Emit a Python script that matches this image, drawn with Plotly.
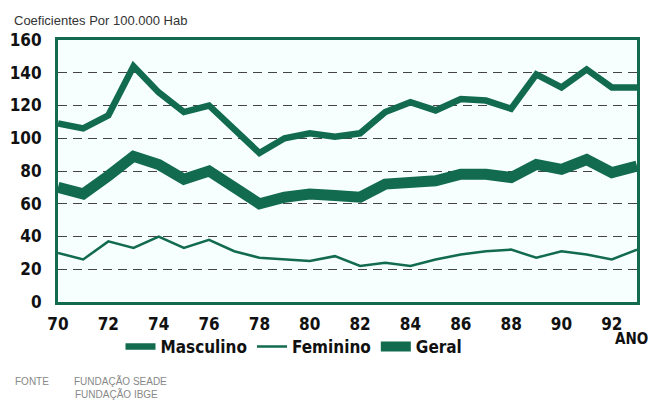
import plotly.graph_objects as go

years = list(range(70, 94))
masculino = [109, 106, 114, 144, 128, 116, 120, 105, 91, 100, 103, 101, 103, 116, 122, 117, 124, 123, 118, 139, 131, 142, 131, 131]
feminino = [30, 26, 37, 33, 40, 33, 38, 31, 27, 26, 25, 28, 22, 24, 22, 26, 29, 31, 32, 27, 31, 29, 26, 32]
geral = [70, 66, 77, 89, 84, 75, 80, 70, 60, 64, 66, 65, 64, 72, 73, 74, 78, 78, 76, 84, 81, 87, 79, 83]
xticks = list(range(70, 93, 2))
yticks = list(range(0, 161, 20))

GREEN = "#126b4f"
FONT = "DejaVu Sans Condensed, Arial Narrow, Arial, sans-serif"

W, H = 650, 402
L, R, T, B = 58, 13, 40, 100
PW, PH = W - L - R, H - T - B

def px(x):
    return (x - L) / PW

def py(y):
    return (H - B - y) / PH

fig = go.Figure()
fig.add_trace(go.Scatter(x=years, y=masculino, mode="lines", name="Masculino",
                         line=dict(color=GREEN, width=6.5)))
fig.add_trace(go.Scatter(x=years, y=feminino, mode="lines", name="Feminino",
                         line=dict(color=GREEN, width=2.5)))
fig.add_trace(go.Scatter(x=years, y=geral, mode="lines", name="Geral",
                         line=dict(color=GREEN, width=11)))

fig.update_xaxes(range=[70, 93], tickvals=xticks, ticktext=[str(v) for v in xticks],
                 showgrid=False, zeroline=False, showline=True, mirror=True, automargin=False,
                 linecolor=GREEN, linewidth=3, ticks="", ticklabelstandoff=5,
                 tickfont=dict(family=FONT, size=17, color="#111", weight="bold"))
fig.update_yaxes(range=[0, 160], tickvals=yticks, ticktext=[str(v) for v in yticks],
                 showgrid=True, gridcolor="#444444", gridwidth=1, griddash="9px,6px",
                 zeroline=False, showline=True, mirror=True, automargin=False,
                 linecolor=GREEN, linewidth=3, ticks="", ticklabelstandoff=10,
                 tickfont=dict(family=FONT, size=17, color="#111", weight="bold"))

annotations = [
    dict(text="Coeficientes Por 100.000 Hab", x=px(12), y=py(20), xanchor="left", yanchor="middle",
         font=dict(family="Liberation Sans, Arial, sans-serif", size=13, color="#333")),
    dict(text="ANO", x=px(631), y=py(339), xanchor="center", yanchor="middle",
         font=dict(family=FONT, size=15, color="#111", weight="bold")),
    dict(text="FONTE", x=px(13), y=py(381), xanchor="left", yanchor="middle",
         font=dict(family="Liberation Sans, Arial, sans-serif", size=10, color="#888")),
    dict(text="FUNDAÇÃO SEADE", x=px(72), y=py(381), xanchor="left", yanchor="middle",
         font=dict(family="Liberation Sans, Arial, sans-serif", size=10, color="#888")),
    dict(text="FUNDAÇÃO IBGE", x=px(73), y=py(394), xanchor="left", yanchor="middle",
         font=dict(family="Liberation Sans, Arial, sans-serif", size=10, color="#888")),
]
for a in annotations:
    a.update(xref="paper", yref="paper", showarrow=False)

fig.update_layout(
    width=W, height=H,
    margin=dict(l=L, r=R, t=T, b=B, autoexpand=False),
    paper_bgcolor="white", plot_bgcolor="#f6fffd",
    annotations=annotations,
    showlegend=True,
    legend=dict(orientation="h", x=px(294), xanchor="center", y=py(347), yanchor="middle",
                itemwidth=30, font=dict(family=FONT, size=17, color="#111", weight="bold"),
                bgcolor="rgba(0,0,0,0)", tracegroupgap=0),
)

fig.write_html("out.html", config={"displayModeBar": False},
               post_script="document.body.style.margin='0';document.body.style.padding='0';")
